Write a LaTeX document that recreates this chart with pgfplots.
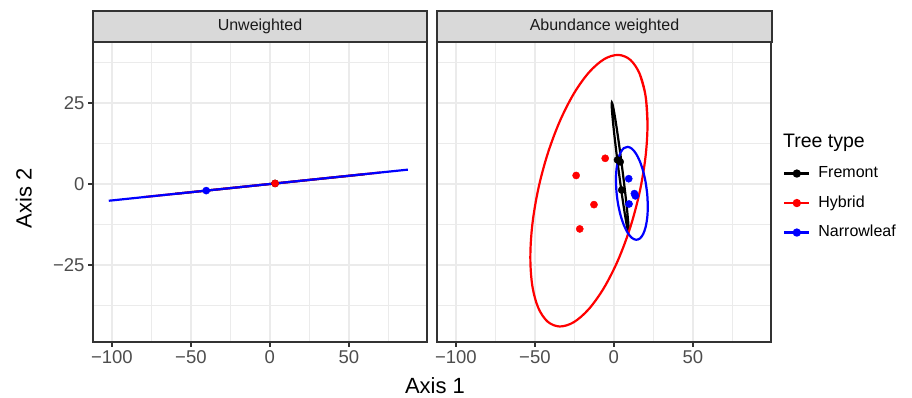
\documentclass[border=0pt]{standalone}
\usepackage{pgfplots}
\pgfplotsset{compat=1.18}
\usepackage{fontspec}
\setmainfont{Liberation Sans}
\definecolor{gray20}{HTML}{333333}
\definecolor{gray30}{HTML}{4D4D4D}
\definecolor{gray85}{HTML}{D9D9D9}
\definecolor{gray92}{HTML}{EBEBEB}
\definecolor{gray10}{HTML}{1A1A1A}
\definecolor{ggred}{HTML}{FF0000}
\definecolor{ggblue}{HTML}{0000FF}
\pgfplotsset{
 panel/.style={
  scale only axis, width=334pt, height=300pt,
  xmin=-112, xmax=99.5, ymin=-48.8, ymax=43.8,
  axis line style={gray20, line width=2pt},
  xtick={-100,-50,0,50}, xticklabels={−100,−50,0,50},
  ytick={-25,0,25}, yticklabels={−25,0,25},
  minor xtick={-75,-25,25,75}, minor ytick={-37.5,-12.5,12.5,37.5},
  grid=both, major grid style={gray92, line width=1.8pt}, minor grid style={gray92, line width=0.9pt},
  tick align=outside, tick pos=left, major tick length=5pt, minor tick length=0pt,
  major tick style={gray20, line width=1.8pt},
  tick label style={font=\fontsize{18.5}{22}\selectfont, text=gray30},
 },
 ell/.style={line width=2.2pt, smooth, tension=0.55, no marks},
 pt/.style={only marks, mark=*, mark size=3.6pt},
}
\begin{document}
\begin{tikzpicture}
\useasboundingbox (0,0) rectangle (912pt,398pt);
% left panel
\begin{axis}[panel, at={(93pt,56pt)}, anchor=south west]
\addplot[black, line width=2.2pt] coordinates {(-60,-3.07) (60,2.99)};
\addplot[ggred, line width=2.2pt] coordinates {(-80,-4.08) (70,3.52)};
\addplot[ggblue, line width=2.2pt] coordinates {(-102,-5.2) (87.4,4.4)};
\addplot[pt, black] coordinates {(3.3,0.14)};
\addplot[pt, ggred] coordinates {(3.3,0.14)};
\addplot[pt, ggblue] coordinates {(-40.3,-2.07)};
\end{axis}
% right panel
\begin{axis}[panel, at={(437pt,56pt)}, anchor=south west, yticklabels={}, ytick style={draw=none},
  legend image code/.code={\draw[mark repeat=2,mark phase=2,#1] plot coordinates {(0pt,0pt) (12.5pt,0pt) (25pt,0pt)};},
  legend cell align=left,
  legend style={at={(axis description cs:1.036,0.593)}, anchor=north west, draw=none, fill=none,
    inner sep=0pt, row sep=11pt, font=\fontsize{16}{19}\selectfont,
    nodes={inner sep=2pt, text height=11.5pt, text depth=3pt},
    /tikz/every odd column/.append style={column sep=6pt}}]
\addlegendimage{black, line width=2.2pt, mark=*, mark size=3pt}
\addlegendentry{Fremont}
\addlegendimage{ggred, line width=2.2pt, mark=*, mark size=3pt}
\addlegendentry{Hybrid}
\addlegendimage{ggblue, line width=2.2pt, mark=*, mark size=3pt}
\addlegendentry{Narrowleaf}
% Fremont ellipse
\addplot[ell, black, forget plot] coordinates {
(-1.26,25.1) (-0.77,24.44) (0.04,22.47) (1.12,19.33) (2.39,15.22) (3.78,10.43)
(5.17,5.28) (6.48,0.13) (7.63,-4.68) (8.52,-8.81) (9.10,-11.99) (9.33,-14.0)
(9.2,-14.7) (8.71,-14.04) (7.90,-12.07) (6.82,-8.93) (5.55,-4.82) (4.16,-0.03)
(2.77,5.12) (1.46,10.27) (0.31,15.08) (-0.58,19.21) (-1.16,22.39) (-1.39,24.4)
(-1.26,25.1) (-0.77,24.44) (0.04,22.47)};
% Hybrid ellipse
\addplot[ell, ggred, forget plot] coordinates {
(21.3,18.5) (20.04,27.25) (16.33,33.99) (10.43,38.28) (2.75,39.81) (-6.20,38.49)
(-15.8,34.4) (-25.40,27.83) (-34.35,19.21) (-42.03,9.14) (-47.93,-1.69) (-51.64,-12.55)
(-52.9,-22.7) (-51.64,-31.45) (-47.93,-38.19) (-42.03,-42.48) (-34.35,-44.01) (-25.40,-42.69)
(-15.8,-38.6) (-6.20,-32.03) (2.75,-23.41) (10.43,-13.34) (16.33,-2.51) (20.04,8.35)
(21.3,18.5) (20.04,27.25) (16.33,33.99)};
% Narrowleaf ellipse
\addplot[ell, ggblue, forget plot] coordinates {
(21.47,-6.97) (21.13,-3.27) (20.12,0.46) (18.52,3.95) (16.44,6.98) (14.01,9.34)
(11.4,10.86) (8.79,11.44) (6.37,11.06) (4.28,9.71) (2.68,7.50) (1.67,4.59)
(1.33,1.17) (1.67,-2.53) (2.68,-6.26) (4.28,-9.75) (6.37,-12.78) (8.79,-15.14)
(11.4,-16.66) (14.01,-17.24) (16.44,-16.86) (18.52,-15.51) (20.12,-13.30) (21.13,-10.39)
(21.47,-6.97) (21.13,-3.27) (20.12,0.46)};
\addplot[pt, black, forget plot] coordinates {(2.3,7.4) (4.0,6.8) (5.0,-1.9)};
\addplot[pt, ggred, forget plot] coordinates {(-5.5,7.9) (-23.9,2.6) (-12.6,-6.4) (-21.6,-13.9)};
\addplot[pt, ggblue, forget plot] coordinates {(9.4,1.6) (13.0,-3.0) (13.6,-3.7) (9.6,-6.2)};
\end{axis}
% strips
\draw[gray20, line width=2pt, fill=gray85] (93pt,356pt) rectangle (427pt,387pt);
\node[text=gray10, font=\fontsize{16}{19}\selectfont] at (260pt,371.5pt) {Unweighted};
\draw[gray20, line width=2pt, fill=gray85] (437pt,356pt) rectangle (772pt,387pt);
\node[text=gray10, font=\fontsize{16}{19}\selectfont] at (604.5pt,371.5pt) {Abundance weighted};
% axis titles
\node[font=\fontsize{22}{26}\selectfont, anchor=base] at (435pt,4.7pt) {Axis 1};
\node[font=\fontsize{22}{26}\selectfont, rotate=90, anchor=base] at (31.7pt,199.5pt) {Axis 2};
% legend title
\node[font=\fontsize{19.5}{23}\selectfont, anchor=base west, inner sep=0pt] at (783pt,250pt) {Tree type};
\end{tikzpicture}
\end{document}
